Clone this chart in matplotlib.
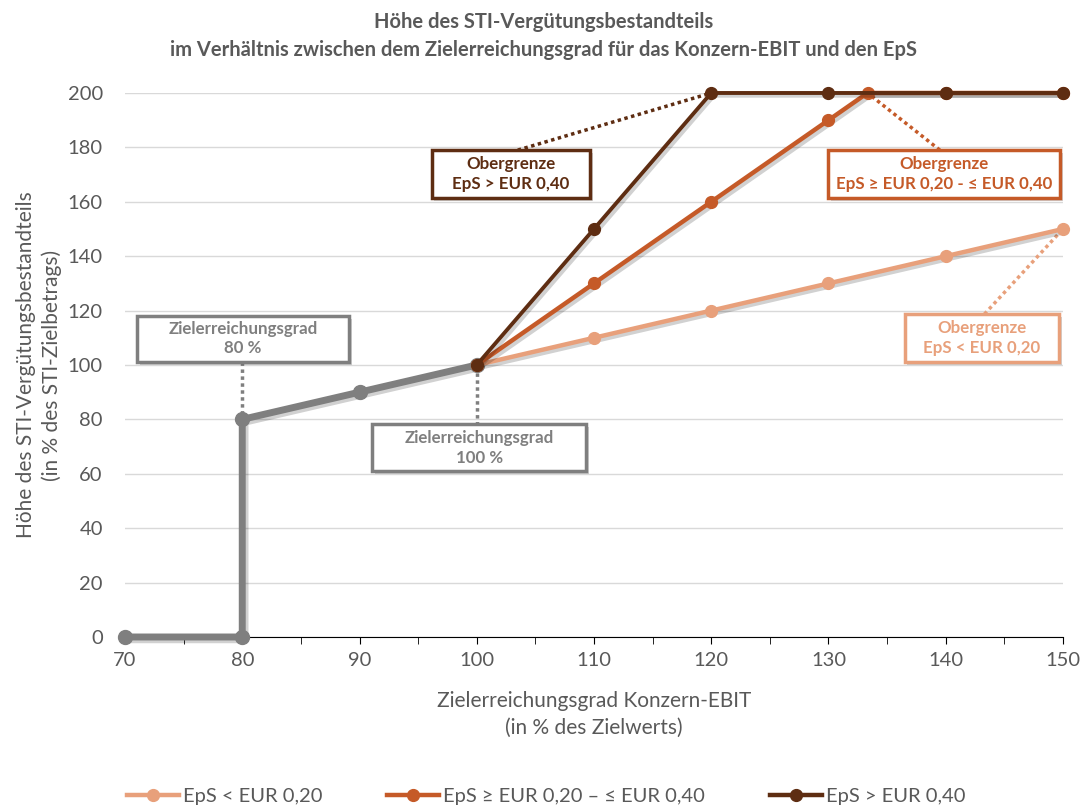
import matplotlib.pyplot as plt
import matplotlib.patheffects as pe
from matplotlib.patches import Rectangle
from matplotlib.lines import Line2D

plt.rcParams['font.family'] = ['Lato', 'DejaVu Sans']

# Daten
x_basis = [70, 80, 80, 90, 100]
y_basis = [0, 0, 80, 90, 100]

x_niedrig = [100, 110, 120, 130, 140, 150]
y_niedrig = [100, 110, 120, 130, 140, 150]

x_mittel = [100, 110, 120, 130, 133.33, 140, 150]
y_mittel = [100, 130, 160, 190, 200, 200, 200]

x_hoch = [100, 110, 120, 130, 140, 150]
y_hoch = [100, 150, 200, 200, 200, 200]

labels = ["EpS < EUR 0,20", "EpS \u2265 EUR 0,20 \u2013 \u2264 EUR 0,40", "EpS > EUR 0,40"]

c_grau = "#7F7F7F"
c_hell = "#E8A07B"
c_mittel = "#C55A28"
c_dunkel = "#5E2D12"
c_text = "#595959"

schatten = [pe.SimpleLineShadow(offset=(2, -2), alpha=0.18, shadow_color="black"), pe.Normal()]

fig = plt.figure(figsize=(10.88, 8.05), dpi=100)
ax = fig.add_axes([0.1149, 0.2087, 0.8621, 0.6758])

serien = [
    (x_basis, y_basis, c_grau, 5, 10, 3),
    (x_niedrig, y_niedrig, c_hell, 3.2, 8.5, 4),
    (x_mittel, y_mittel, c_mittel, 3.2, 8.5, 5),
    (x_hoch, y_hoch, c_dunkel, 2.8, 8.5, 6),
]
for xs, ys, farbe, lw, ms, z in serien:
    ax.plot(xs, ys, "-", color=farbe, lw=lw, clip_on=False, zorder=z, path_effects=schatten)
    ax.plot(xs, ys, "o", color=farbe, ms=ms, clip_on=False, zorder=z + 0.5)

ax.set_xlim(70, 150)
ax.set_ylim(0, 200)
ax.set_yticks(range(0, 201, 20))
ax.set_xticks(range(70, 151, 10))
ax.set_xticks(range(75, 150, 10), minor=True)
ax.tick_params(axis="y", length=0, labelsize=14.5, labelcolor=c_text, pad=16)
ax.tick_params(axis="x", which="both", direction="out", length=5, color="black",
               labelsize=14.5, labelcolor=c_text, pad=6)
ax.grid(axis="y", color="#D9D9D9", lw=1)
ax.set_axisbelow(True)
for s in ["top", "right", "left"]:
    ax.spines[s].set_visible(False)
ax.spines["bottom"].set_color("black")

ax.set_xlabel("Zielerreichungsgrad Konzern-EBIT\n(in % des Zielwerts)", fontsize=15, color=c_text,
              labelpad=16, linespacing=1.4)
ax.set_ylabel("H\u00f6he des STI-Verg\u00fctungsbestandteils\n(in % des STI-Zielbetrags)", fontsize=15,
              color=c_text, labelpad=4, linespacing=1.35)

fig.text(0.5, 0.985, "H\u00f6he des STI-Verg\u00fctungsbestandteils\n"
         "im Verh\u00e4ltnis zwischen dem Zielerreichungsgrad f\u00fcr das Konzern-EBIT und den EpS",
         ha="center", va="top", fontsize=14.5, fontweight="bold", color=c_text, linespacing=1.5)

# Beschriftungsboxen: (Text, Farbe, Mitte x, Mitte y, Breite, Hoehe, Linie von, Linie bis)
boxen = [
    ("Obergrenze\nEpS > EUR 0,40", c_dunkel, 102.9, 170.2, 13.5, 17.6, (103.5, 179), (120, 200)),
    ("Obergrenze\nEpS \u2265 EUR 0,20 - \u2264 EUR 0,40", c_mittel, 139.85, 170.2, 19.8, 17.6, (139.5, 179), (133.33, 200)),
    ("Obergrenze\nEpS < EUR 0,20", c_hell, 143.1, 109.9, 13.2, 17.6, (143.3, 118.7), (150, 150)),
    ("Zielerreichungsgrad\n80 %", c_grau, 80.06, 109.6, 18.1, 16.9, (80, 101.1), (80, 80)),
    ("Zielerreichungsgrad\n100 %", c_grau, 100.2, 69.5, 18.2, 17.3, (100, 78), (100, 100)),
]
for text, farbe, cx, cy, w, h, p0, p1 in boxen:
    ax.plot([p0[0], p1[0]], [p0[1], p1[1]], ls=(0, (1, 1)), color=farbe, lw=2.5, zorder=2, clip_on=False)
    r = Rectangle((cx - w / 2, cy - h / 2), w, h, fc="white", ec=farbe, lw=2.5, zorder=8, clip_on=False,
                  path_effects=[pe.SimplePatchShadow(offset=(2, -2), alpha=0.25), pe.Normal()])
    ax.add_patch(r)
    ax.text(cx, cy, text, ha="center", va="center", fontsize=12.2, fontweight="bold", color=farbe,
            zorder=9, linespacing=1.25)

handles = [Line2D([], [], color=c, lw=3.2, marker="o", ms=8.5) for c in (c_hell, c_mittel, c_dunkel)]
fig.legend(handles=handles, labels=labels, loc="lower center", bbox_to_anchor=(0.502, -0.022), ncol=3,
           frameon=False, fontsize=14.5, labelcolor=c_text, handlelength=2.6, columnspacing=3.2,
           handletextpad=0.2)

fig.savefig("out.png", dpi=100)
